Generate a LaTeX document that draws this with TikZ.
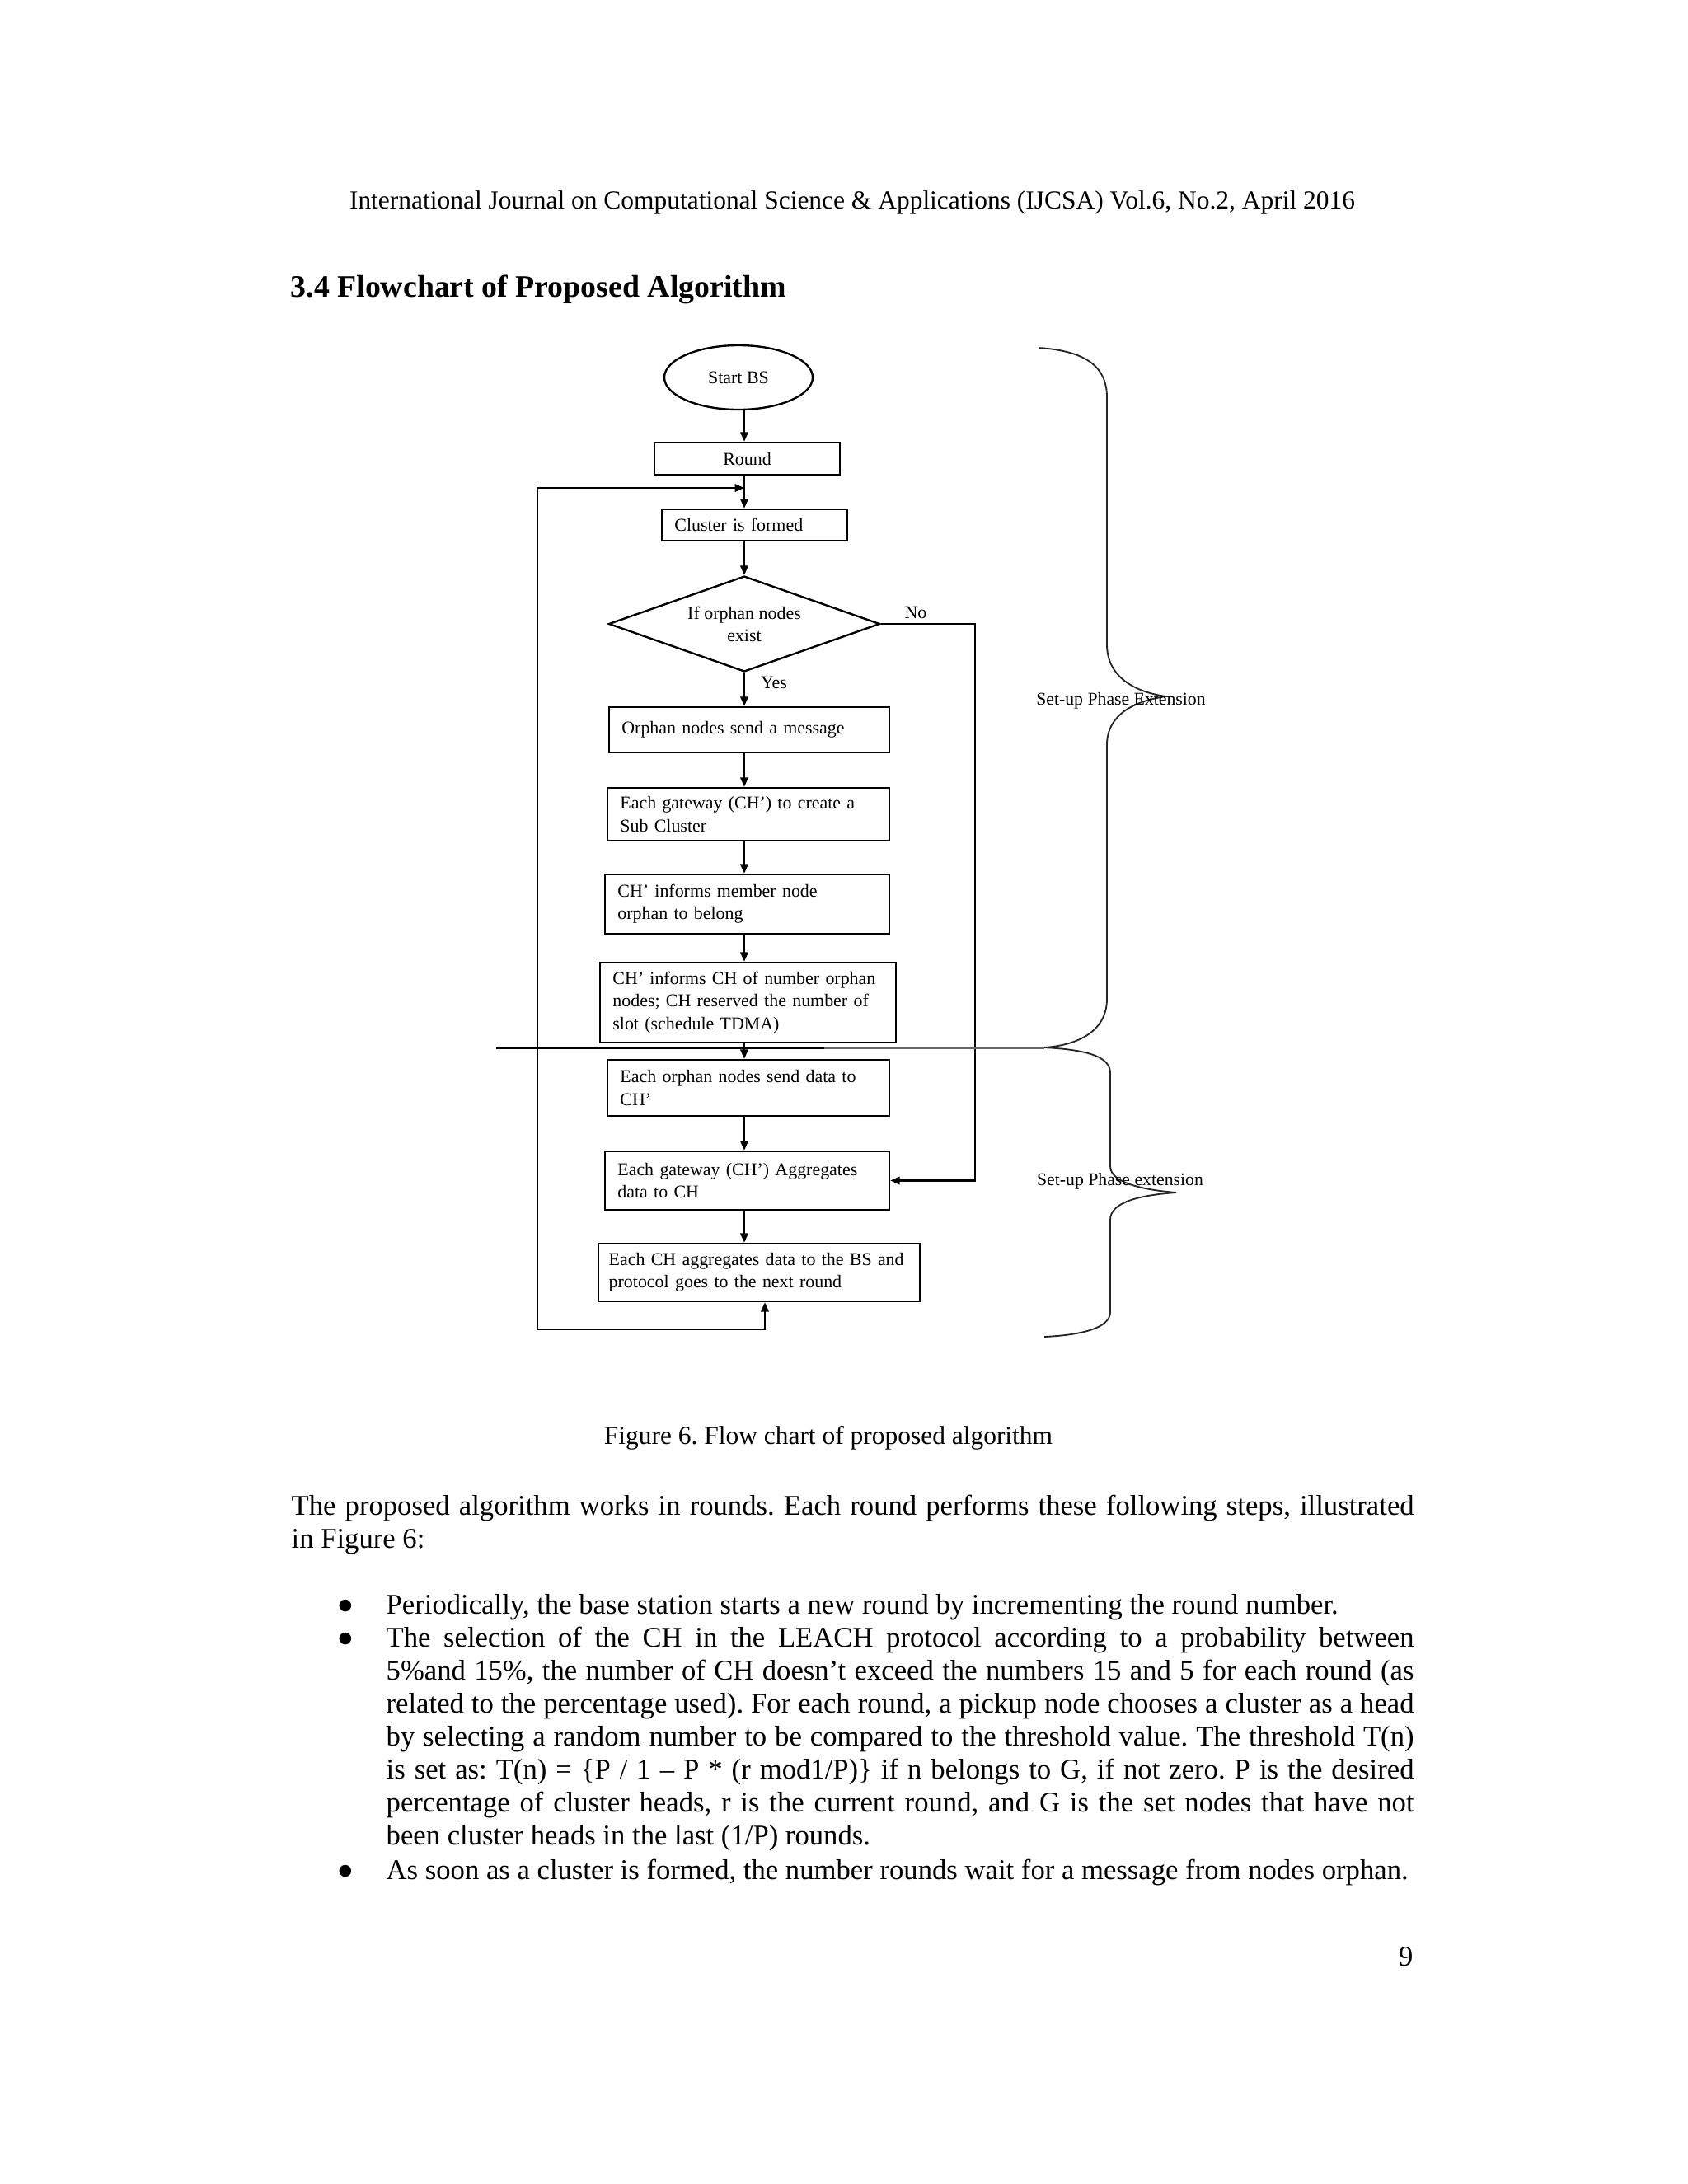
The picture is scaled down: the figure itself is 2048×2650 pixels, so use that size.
\documentclass[tikz,border=0pt]{standalone}
\usepackage{fontspec}
\setmainfont{Liberation Serif}
\newfontfamily\symfont{DejaVu Sans}
\usetikzlibrary{shapes.geometric,arrows.meta}
\newcommand{\mybul}{\raisebox{1.5pt}{\symfont\fontsize{5.7}{6}\selectfont ●}}
\begin{document}
\frenchspacing
\begin{tikzpicture}[x=0.29883pt,y=-0.29883pt,
  fc/.style={font=\fontsize{6.55}{8.1}\selectfont},
  box/.style={draw,line width=0.7pt,fc,inner xsep=4.6pt,inner ysep=1pt,align=left,anchor=center},
  arr/.style={line width=0.7pt,-{Triangle[length=3.4pt,width=2.8pt]}},
  arr2/.style={line width=0.7pt,{Triangle[length=3.4pt,width=2.8pt]}-{Triangle[length=3.4pt,width=2.8pt]}},
  ln/.style={line width=0.7pt},
  body/.style={inner sep=0pt,font=\fontsize{10.36}{12}\selectfont},
  brace/.style={line width=0.55pt,black!85},
  lbl/.style={inner sep=0pt,font=\fontsize{6.5}{7.5}\selectfont}
]
\fill[white] (0,0) rectangle (2048,2650);
\useasboundingbox (0,0) rectangle (2048,2650);

% page text
\node[inner sep=0pt,anchor=base,font=\fontsize{9.4}{11}\selectfont] (hdr) at (1034,253)
  {International Journal on Computational Science \& Applications (IJCSA) Vol.6, No.2, April 2016};
\node[inner sep=0pt,anchor=base west,font=\fontsize{11.3}{13}\selectfont\bfseries] (sec) at (352,360)
  {3.4 Flowchart of Proposed Algorithm};

% flowchart nodes
\node[draw,line width=0.7pt,ellipse,fc,inner sep=0pt,minimum width=53.79pt,minimum height=23.31pt] (start) at (896,458) {Start BS};
\node[box,align=center,minimum width=67.24pt,minimum height=11.65pt,inner xsep=0pt] (round) at (906.5,556.5) {Round};
\node[box,text width=58.04pt,minimum height=11.36pt] (cluster) at (915.5,637) {\mbox{Cluster is formed}};
\node[draw,line width=0.7pt,diamond,aspect=2.84,fc,align=center,inner sep=0pt,minimum width=98.31pt,minimum height=34.66pt] (dia) at (903,757) {If orphan nodes\\exist};
\node[box,text width=92.4pt,minimum height=16.44pt] (orph) at (909,885.5) {\mbox{Orphan nodes send a message}};
\node[box,text width=93.0pt,minimum height=19.13pt] (gate) at (908,988) {\mbox{Each gateway (CH’) to create a}\\\mbox{Sub Cluster}};
\node[box,text width=93.9pt,minimum height=21.52pt] (memb) at (906.5,1097) {\mbox{CH’ informs member node}\\\mbox{orphan to belong}};
\node[box,text width=98.08pt,minimum height=28.99pt] (inf) at (907.5,1216.5) {\mbox{CH’ informs CH of number orphan}\\\mbox{nodes; CH reserved the number of}\\\mbox{slot (schedule TDMA)}};
\node[box,text width=93.0pt,minimum height=20.32pt] (send) at (908,1320) {\mbox{Each orphan nodes send data to}\\\mbox{CH’}};
\node[box,text width=93.9pt,minimum height=21.22pt] (agg) at (906.5,1432.5) {\mbox{Each gateway (CH’) Aggregates}\\\mbox{data to CH}};
\node[box,text width=108.94pt,minimum height=20.92pt,inner xsep=3.9pt] (last) at (921,1544) {\mbox{Each CH aggregates data to the BS and}\\\mbox{protocol goes to the next round}};

\node[fc,inner sep=0pt] (no) at (1111,743) {No};
\node[fc,inner sep=0pt] (yes) at (939,828) {Yes};

% helper coordinates
\coordinate (mx) at (903,0);
\coordinate (noR) at (1183,757);
\coordinate (lpB) at (928,1613);
\coordinate (lpBL) at (652,1613);
\coordinate (lpTL) at (652,592);
\coordinate (lpT) at (903,592);
\coordinate (sepL) at (602,1272);
\coordinate (sepM) at (1000,1272);
\coordinate (sepR) at (1267,1272);

% connectors
\draw[arr] (start.south -| mx) -- (round.north -| mx);
\draw[arr] (round.south -| mx) -- (cluster.north -| mx);
\draw[arr] (cluster.south -| mx) -- (dia.north);
\draw[arr] (dia.south) -- (orph.north -| mx);
\draw[arr] (orph.south -| mx) -- (gate.north -| mx);
\draw[arr] (gate.south -| mx) -- (memb.north -| mx);
\draw[arr] (memb.south -| mx) -- (inf.north -| mx);
\draw[arr] (inf.south -| mx) -- (send.north -| mx);
\draw[arr] (send.south -| mx) -- (agg.north -| mx);
\draw[arr] (agg.south -| mx) -- (last.north -| mx);
\draw[arr] (dia.east) -- (noR) -- (noR |- agg.east) -- (agg.east);
\draw[arr2] (last.south -| lpB) -- (lpB) -- (lpBL) -- (lpTL) -- (lpT);

% separator line
\draw[ln] (sepL) -- (sepM);
\draw[line width=0.6pt,black!60] (sepM) -- (sepR);

% braces
\draw[brace] (1260,422) .. controls (1322,426) and (1343,448) .. (1343,482) -- (1343,782)
  .. controls (1343,822) and (1378,840) .. (1415,845)
  .. controls (1378,850) and (1343,866) .. (1343,904) -- (1343,1212)
  .. controls (1343,1250) and (1310,1268) .. (1267,1271);
\draw[brace] (1267,1271) .. controls (1325,1274) and (1347,1284) .. (1347,1302) -- (1347,1415)
  .. controls (1347,1436) and (1390,1444) .. (1427,1447)
  .. controls (1385,1450) and (1347,1458) .. (1347,1480) -- (1347,1592)
  .. controls (1347,1612) and (1310,1620) .. (1267,1622);
\node[lbl] (b1) at (1360,850) {Set-up Phase Extension};
\node[lbl] (b2) at (1359,1433) {Set-up Phase extension};

% caption and body
\node[inner sep=0pt,anchor=base,font=\fontsize{9.4}{11}\selectfont] (cap) at (1005,1752)
  {Figure 6. Flow chart of proposed algorithm};
\node[body,anchor=base west] (p1) at (353,1838) {\makebox[407pt][s]{The proposed algorithm works in rounds. Each round performs these following steps, illustrated}};
\node[body,anchor=base west] (p2) at (353,1878) {in Figure 6:};

\node[body,anchor=base] (u1) at (419,1958) {\mybul};
\node[body,anchor=base] (u2) at (419,1998) {\mybul};
\node[body,anchor=base] (u3) at (419,2280) {\mybul};

\node[body,anchor=base west] (t1) at (468,1958) {Periodically, the base station starts a new round by incrementing the round number.};
\node[body,anchor=base west] (t2a) at (468,1998) {\makebox[372.6pt][s]{The selection of the CH in the LEACH protocol according to a probability between}};
\node[body,anchor=base west] (t2b) at (468,2038) {\makebox[372.6pt][s]{5\%and 15\%, the number of CH doesn’t exceed the numbers 15 and 5 for each round (as}};
\node[body,anchor=base west] (t2c) at (468,2078) {\makebox[372.6pt][s]{related to the percentage used). For each round, a pickup node chooses a cluster as a head}};
\node[body,anchor=base west] (t2d) at (468,2118) {\makebox[372.6pt][s]{by selecting a random number to be compared to the threshold value. The threshold T(n)}};
\node[body,anchor=base west] (t2e) at (468,2158) {\makebox[372.6pt][s]{is set as: T(n) = \{P / 1 – P * (r mod1/P)\} if n belongs to G, if not zero. P is the desired}};
\node[body,anchor=base west] (t2f) at (468,2198) {\makebox[372.6pt][s]{percentage of cluster heads, r is the current round, and G is the set nodes that have not}};
\node[body,anchor=base west] (t2g) at (468,2238) {been cluster heads in the last (1/P) rounds.};
\node[body,anchor=base west] (t3) at (468,2280) {As soon as a cluster is formed, the number rounds wait for a message from nodes orphan.};

\node[body,anchor=base east] (pg) at (1715,2385) {9};
\end{tikzpicture}
\end{document}
